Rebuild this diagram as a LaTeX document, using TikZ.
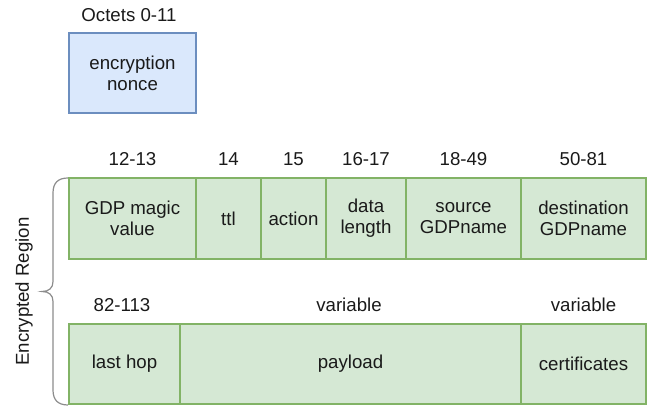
\documentclass[tikz,border=0pt]{standalone}
\usepackage{fontspec}
\setmainfont{Liberation Sans}
\definecolor{greenfill}{HTML}{D5E8D4}
\definecolor{greenline}{HTML}{82B366}
\definecolor{bluefill}{HTML}{DAE8FC}
\definecolor{blueline}{HTML}{6C8EBF}
\definecolor{bracegray}{HTML}{8C8C8C}
\definecolor{txt}{HTML}{1A1A1A}
\begin{document}
\begin{tikzpicture}[x=0.75pt,y=-0.75pt,
  every node/.style={font=\fontsize{14}{15.75}\selectfont, text=txt},
  field/.style={draw=greenline, fill=greenfill, line width=1.1pt, inner sep=0pt,
    align=center, minimum height=60.5pt},
  nonce/.style={draw=blueline, fill=bluefill, line width=1.1pt, inner sep=0pt,
    align=center, minimum width=95pt, minimum height=60pt},
  octets/.style={inner sep=0pt}]
\useasboundingbox (0,0) rectangle (651,406);

% nonce block
\node[nonce] (nonce) at (132.5,73) {encryption\\nonce};
\node[octets] (o0) at (129,15) {Octets 0-11};

% first row of the encrypted header
\node[field, minimum width=95.25pt] (magic) at (132.5,218.5) {GDP magic\\value};
\node[field, minimum width=48.75pt] (ttl) at (228.5,218.5) {ttl};
\node[field, minimum width=48.75pt] (action) at (293.5,218.5) {action};
\node[field, minimum width=60pt] (dlen) at (366,218.5) {data\\length};
\node[field, minimum width=86.25pt] (src) at (463.5,218.5) {source\\GDPname};
\node[field, minimum width=93.75pt] (dst) at (583.5,218.5) {destination\\GDPname};

\node[octets] (l1) at (132.5,159) {12-13};
\node[octets] (l2) at (228.5,159) {14};
\node[octets] (l3) at (293.5,159) {15};
\node[octets] (l4) at (366,159) {16-17};
\node[octets] (l5) at (463.5,159) {18-49};
\node[octets] (l6) at (583.5,159) {50-81};

% second row
\node[field, minimum width=83.25pt, minimum height=60pt] (hop) at (124.5,364) {last hop};
\node[field, minimum width=255.75pt, minimum height=60pt] (payload) at (350.5,364) {payload};
\node[field, minimum width=93.75pt, minimum height=60pt] (cert) at (583.5,364) {certificates};

\node[octets] (l7) at (122,305) {82-113};
\node[octets] (l8) at (349,305) {variable};
\node[octets] (l9) at (583.5,305) {variable};

% brace over the encrypted region
\coordinate (btop) at (68,178);
\coordinate (bbot) at (68,405);
\coordinate (btip) at (42,291.5);
\draw[bracegray, line width=0.9pt]
  (btop) .. controls (58,178) and (53,183) .. (53,193)
  -- (53,281.5) .. controls (53,288) and (49,291.5) .. (btip)
  .. controls (49,291.5) and (53,295) .. (53,301.5)
  -- (53,390) .. controls (53,400) and (58,405) .. (bbot);
\node[rotate=90, inner sep=0pt] (enc) at (24,291.5) {Encrypted Region};
\end{tikzpicture}
\end{document}
